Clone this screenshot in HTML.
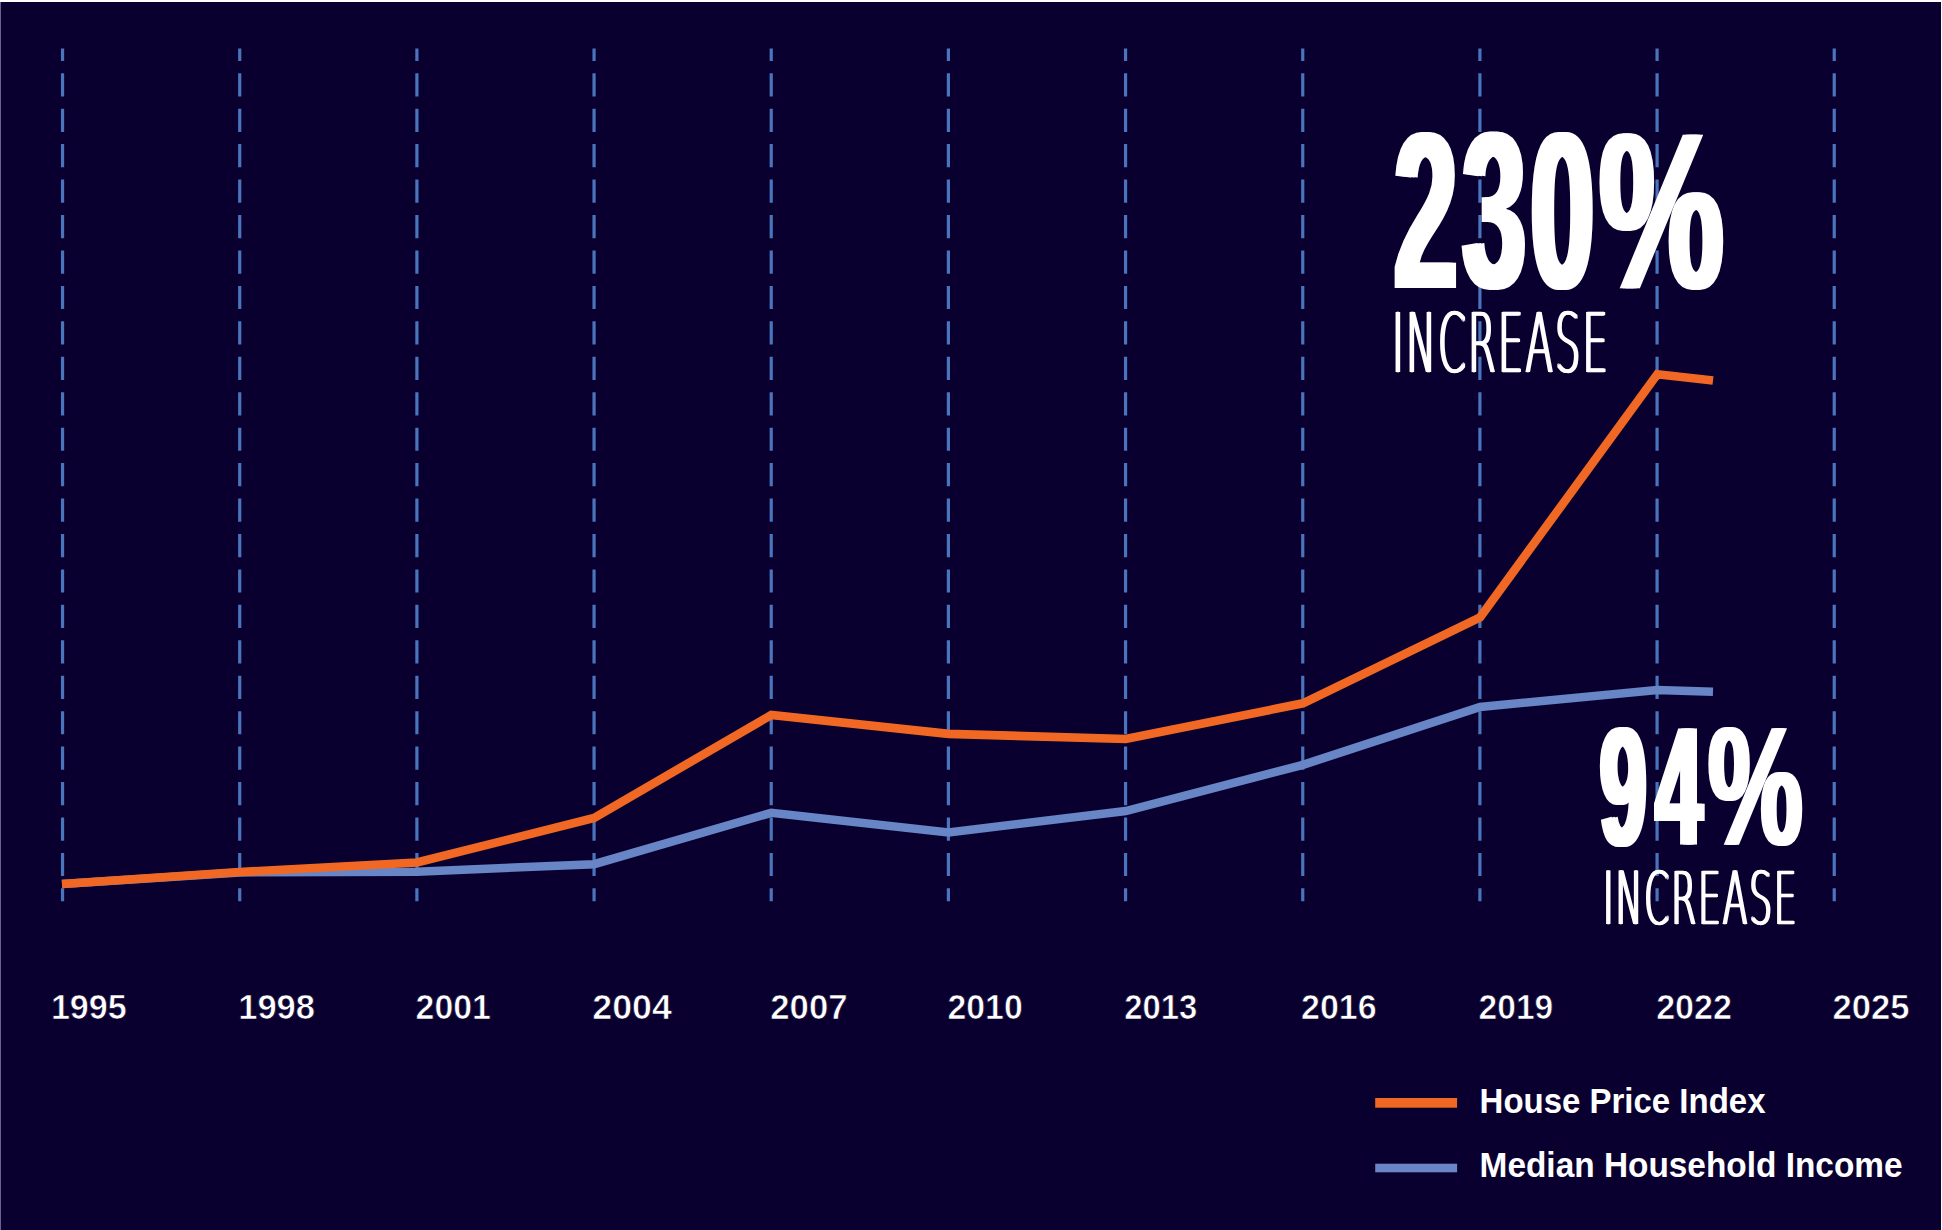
<!DOCTYPE html>
<html lang="en">
<head>
<meta charset="utf-8">
<title>House Price Index vs Median Household Income</title>
<style>
html,body{margin:0;padding:0;}
body{width:1942px;height:1230px;overflow:hidden;background:#0a0030;position:relative;font-family:"Liberation Sans",sans-serif;}
.frame-top{position:absolute;left:0;top:0;width:1942px;height:2px;background:#fff;}
.frame-left{position:absolute;left:0;top:2px;width:1px;height:1228px;background:#69658a;}
.frame-right{position:absolute;left:1941px;top:0;width:1px;height:1230px;background:#fff;}
svg{position:absolute;left:0;top:0;}
.grid line{stroke:#4a74bb;stroke-width:3.2;stroke-dasharray:23.2 12.24;stroke-dashoffset:10.7;}
.series{fill:none;stroke-linejoin:miter;stroke-linecap:butt;}
.years text{font-family:"Liberation Sans",sans-serif;font-weight:700;font-size:35.4px;fill:#fff;stroke:#0a0030;stroke-width:0.7;}
.legend text{font-family:"Liberation Sans",sans-serif;font-weight:700;font-size:34.3px;fill:#fff;}
.big{position:absolute;color:#fff;white-space:nowrap;transform-origin:0 0;line-height:1;font-weight:700;}
.thin{position:absolute;color:#fff;white-space:nowrap;transform-origin:0 0;line-height:1;font-weight:200;font-family:"DejaVu Sans Light","DejaVu Sans",sans-serif;-webkit-text-stroke:0.5px #fff;}
#b1{left:1393.5px;top:99px;font-size:223px;text-shadow:6.5px 0 #fff,-6.5px 0 #fff;}
#b1 .d{position:absolute;left:0;top:0;transform-origin:0 0;transform:scaleX(0.511);letter-spacing:9.7px;}
#b1 .p{position:absolute;left:205.6px;top:0;transform-origin:0 0;transform:scaleX(0.63);text-shadow:4.8px 0 #fff,-4.8px 0 #fff;}
#t1{left:1392px;top:302.8px;font-size:82.3px;transform:scaleX(0.487);letter-spacing:4.3px;text-shadow:2.6px 0 #fff,-2.6px 0 #fff;}
#b2{left:1600px;top:703px;font-size:168.7px;text-shadow:6px 0 #fff,-6px 0 #fff;}
#b2 .d{position:absolute;left:0;top:0;transform-origin:0 0;transform:scaleX(0.494);letter-spacing:19px;}
#b2 .p{position:absolute;left:108.2px;top:0;transform-origin:0 0;transform:scaleX(0.632);text-shadow:3.5px 0 #fff,-3.5px 0 #fff;}
#t2{left:1603px;top:861.9px;font-size:73.8px;transform:scaleX(0.487);letter-spacing:3.9px;text-shadow:2.4px 0 #fff,-2.4px 0 #fff;}
</style>
</head>
<body>
<svg width="1942" height="1230" viewBox="0 0 1942 1230">
<g class="grid">
<line x1="62.55" y1="48.5" x2="62.55" y2="901.3"/>
<line x1="239.72" y1="48.5" x2="239.72" y2="901.3"/>
<line x1="416.89" y1="48.5" x2="416.89" y2="901.3"/>
<line x1="594.06" y1="48.5" x2="594.06" y2="901.3"/>
<line x1="771.23" y1="48.5" x2="771.23" y2="901.3"/>
<line x1="948.40" y1="48.5" x2="948.40" y2="901.3"/>
<line x1="1125.57" y1="48.5" x2="1125.57" y2="901.3"/>
<line x1="1302.74" y1="48.5" x2="1302.74" y2="901.3"/>
<line x1="1479.91" y1="48.5" x2="1479.91" y2="901.3"/>
<line x1="1657.08" y1="48.5" x2="1657.08" y2="901.3"/>
<line x1="1834.25" y1="48.5" x2="1834.25" y2="901.3"/>
</g>
<polyline class="series" stroke="#6885c5" stroke-width="8.5" points="62,883.9 239.7,872.4 416.9,871.7 594.1,864.2 771.3,812.8 948.5,832.4 1125.7,811.0 1302.9,764.9 1480.1,706.9 1657.3,690.1 1713,691.7"/>
<polyline class="series" stroke="#f06824" stroke-width="8.6" points="62,884.0 239.7,872.0 416.9,862.5 594.1,817.9 771.3,715.0 948.5,733.9 1125.7,739.0 1302.9,703.3 1480.1,617.3 1657.3,374.2 1713,380.5"/>
<g class="years">
<text x="50.9" y="1019.4" textLength="75.8" lengthAdjust="spacingAndGlyphs">1995</text>
<text x="238.2" y="1019.4" textLength="76.8" lengthAdjust="spacingAndGlyphs">1998</text>
<text x="415.6" y="1019.4" textLength="75.2" lengthAdjust="spacingAndGlyphs">2001</text>
<text x="592.3" y="1019.4" textLength="79.6" lengthAdjust="spacingAndGlyphs">2004</text>
<text x="770.3" y="1019.4" textLength="77.2" lengthAdjust="spacingAndGlyphs">2007</text>
<text x="947.5" y="1019.4" textLength="75.2" lengthAdjust="spacingAndGlyphs">2010</text>
<text x="1124.2" y="1019.4" textLength="73.0" lengthAdjust="spacingAndGlyphs">2013</text>
<text x="1301.0" y="1019.4" textLength="75.6" lengthAdjust="spacingAndGlyphs">2016</text>
<text x="1478.6" y="1019.4" textLength="74.6" lengthAdjust="spacingAndGlyphs">2019</text>
<text x="1656.2" y="1019.4" textLength="75.7" lengthAdjust="spacingAndGlyphs">2022</text>
<text x="1832.5" y="1019.4" textLength="77.0" lengthAdjust="spacingAndGlyphs">2025</text>
</g>
<g class="legend">
<rect x="1375.2" y="1098" width="81.9" height="9.7" fill="#f06824"/>
<rect x="1375.2" y="1163.7" width="81.9" height="8.6" fill="#6885c5"/>
<text x="1479.6" y="1113" textLength="285.9" lengthAdjust="spacingAndGlyphs">House Price Index</text>
<text x="1479.6" y="1177" textLength="423" lengthAdjust="spacingAndGlyphs">Median Household Income</text>
</g>
</svg>
<div class="big" id="b1"><span class="d">230</span><span class="p">%</span></div>
<div class="thin" id="t1">INCREASE</div>
<div class="big" id="b2"><span class="d">94</span><span class="p">%</span></div>
<div class="thin" id="t2">INCREASE</div>
<div class="frame-top"></div>
<div class="frame-left"></div>
<div class="frame-right"></div>
</body>
</html>
